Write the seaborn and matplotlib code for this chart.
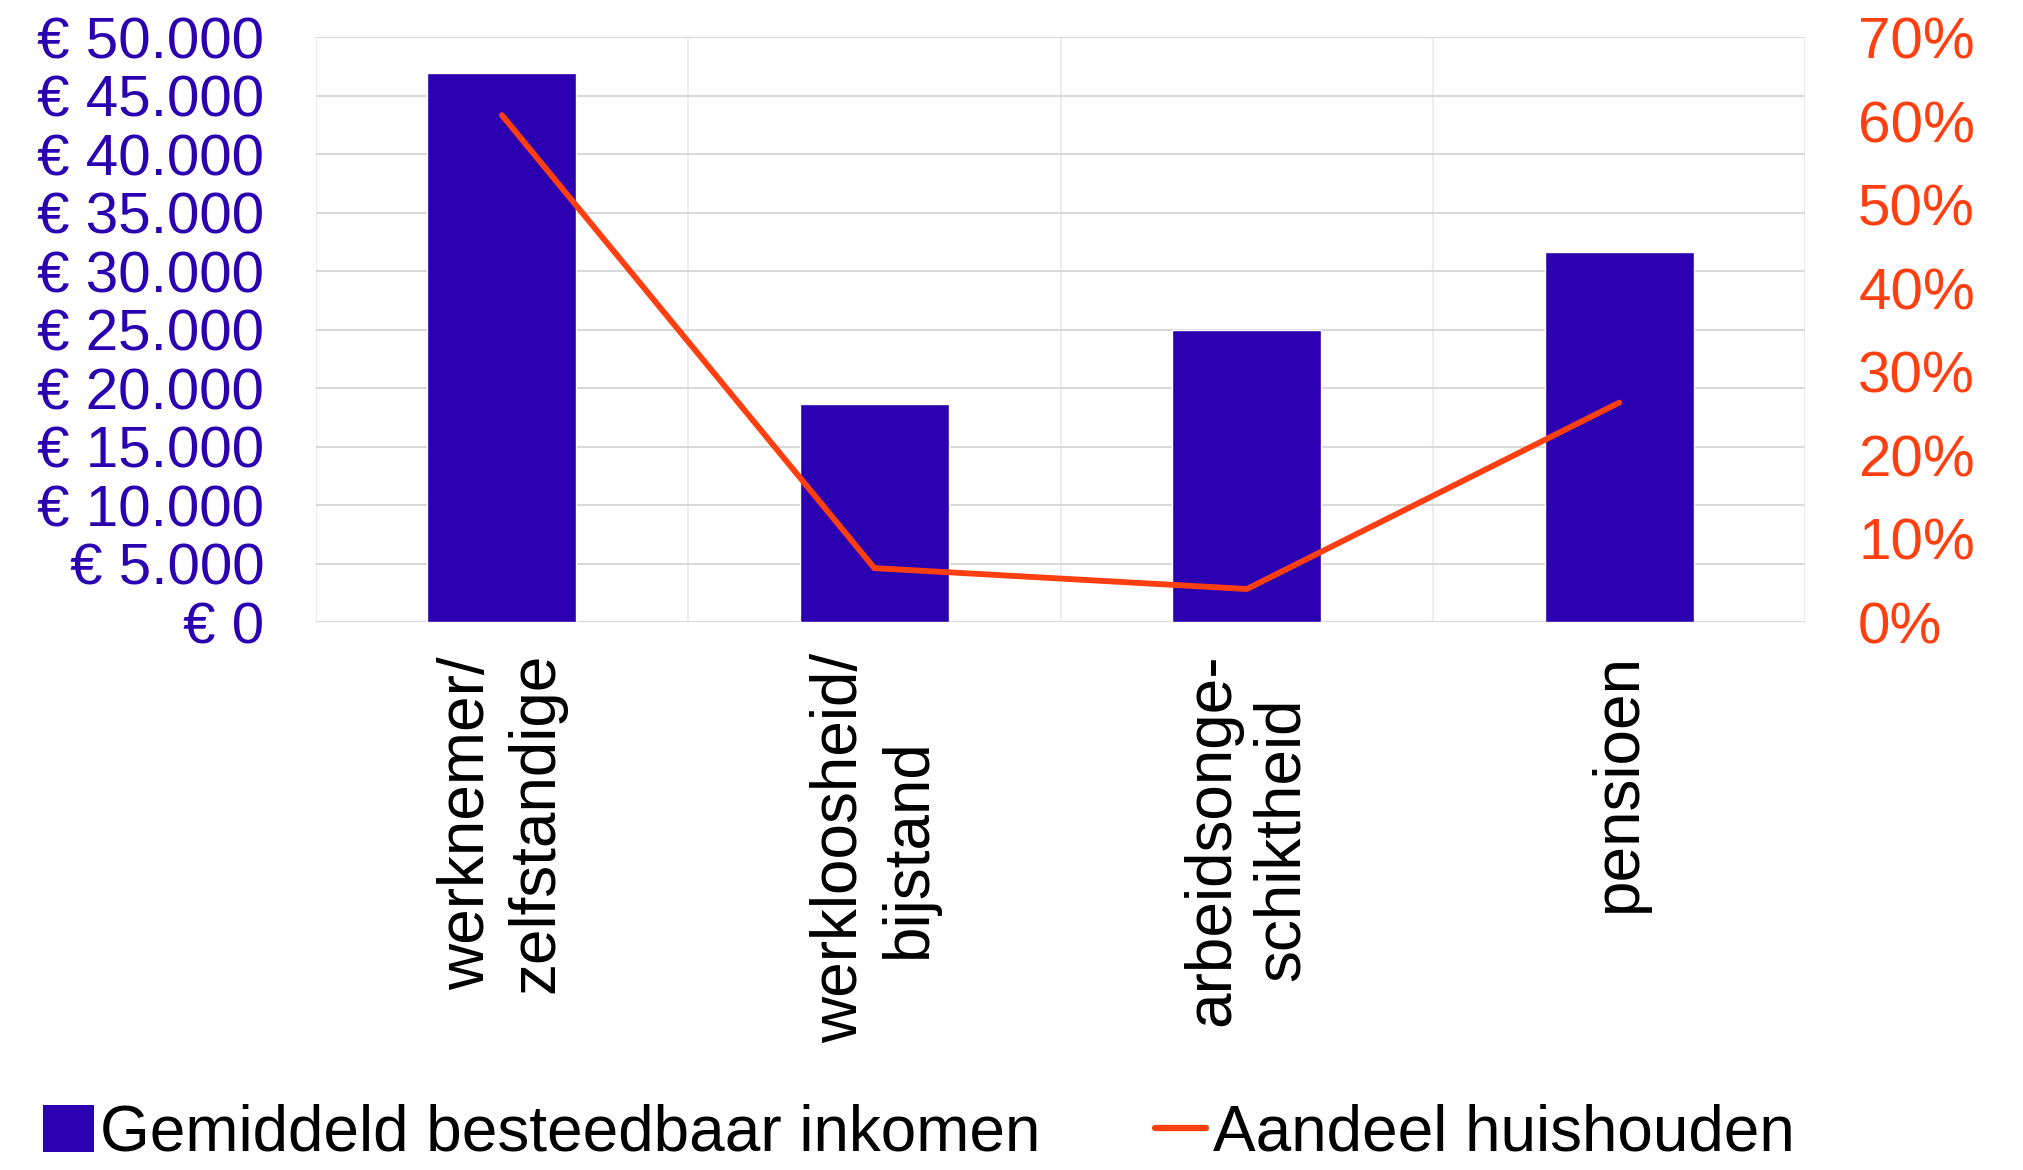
import seaborn as sns
import matplotlib.pyplot as plt
from matplotlib.ticker import FuncFormatter, MultipleLocator, FixedLocator
from matplotlib.patches import Patch
from matplotlib.lines import Line2D

# data
categories = ['werknemer/\nzelfstandige', 'werkloosheid/\nbijstand',
              'arbeidsonge-\nschiktheid', 'pensioen']
income = [47000, 18700, 25000, 31700]           # gemiddeld besteedbaar inkomen (EUR)
share = [0.607, 0.065, 0.040, 0.263]            # aandeel huishouden

BLUE = '#2A00B0'
RED = '#FF3F0F'

sns.set_style('white')
plt.rcParams['font.family'] = ['Liberation Sans', 'DejaVu Sans']

fig, ax = plt.subplots(figsize=(20.24, 11.7), dpi=100)
fig.subplots_adjust(left=0.156, right=0.892, top=0.968, bottom=0.468)

sns.barplot(x=categories, y=income, color=BLUE, width=0.4, saturation=1, ax=ax, zorder=2)
ax.set_ylim(0, 50000)
ax.set_xlim(-0.5, 3.5)
ax.yaxis.set_major_locator(MultipleLocator(5000))
ax.yaxis.set_major_formatter(FuncFormatter(lambda v, p: '€ ' + f'{v:,.0f}'.replace(',', '.')))
ax.tick_params(axis='y', colors=BLUE, labelsize=42, length=0, pad=37)
ax.tick_params(axis='x', labelsize=46, length=0, pad=22, colors='black')
for lab in ax.get_xticklabels():
    lab.set_rotation(90)
    lab.set_multialignment('center')
    lab.set_verticalalignment('top')

# gridlines: horizontal every 5000, vertical at category borders
ax.set_axisbelow(True)
ax.grid(axis='y', color='#D9D9D9', linewidth=1.5)
ax.xaxis.set_minor_locator(FixedLocator([-0.5, 0.5, 1.5, 2.5, 3.5]))
ax.grid(axis='x', which='minor', color='#EDEDED', linewidth=1.5)
ax.tick_params(axis='x', which='minor', length=0)
for s in ax.spines.values():
    s.set_visible(False)

ax2 = ax.twinx()
sns.lineplot(x=[0, 1, 2, 3], y=share, color=RED, linewidth=4.2, ax=ax2,
             solid_capstyle='round')
ax2.set_ylim(0, 0.7)
ax2.set_xlim(-0.5, 3.5)
ax2.yaxis.set_major_locator(MultipleLocator(0.1))
ax2.yaxis.set_major_formatter(FuncFormatter(lambda v, p: f'{v * 100:.0f}%'))
ax2.tick_params(axis='y', colors=RED, labelsize=42, length=0, pad=38)
ax2.set_ylabel('')
for s in ax2.spines.values():
    s.set_visible(False)

handles = [Patch(facecolor=BLUE, edgecolor='none'),
           Line2D([0], [0], color=RED, linewidth=4.5)]
fig.legend(handles, ['Gemiddeld besteedbaar inkomen', 'Aandeel huishouden'],
           loc='center left', bbox_to_anchor=(0.021, 0.031), ncol=2,
           frameon=False, fontsize=46, handlelength=0.8, handleheight=0.75,
           handletextpad=0.1, columnspacing=1.8, borderpad=0, borderaxespad=0,
           labelcolor='black')

fig.savefig('out.png', dpi=100)
